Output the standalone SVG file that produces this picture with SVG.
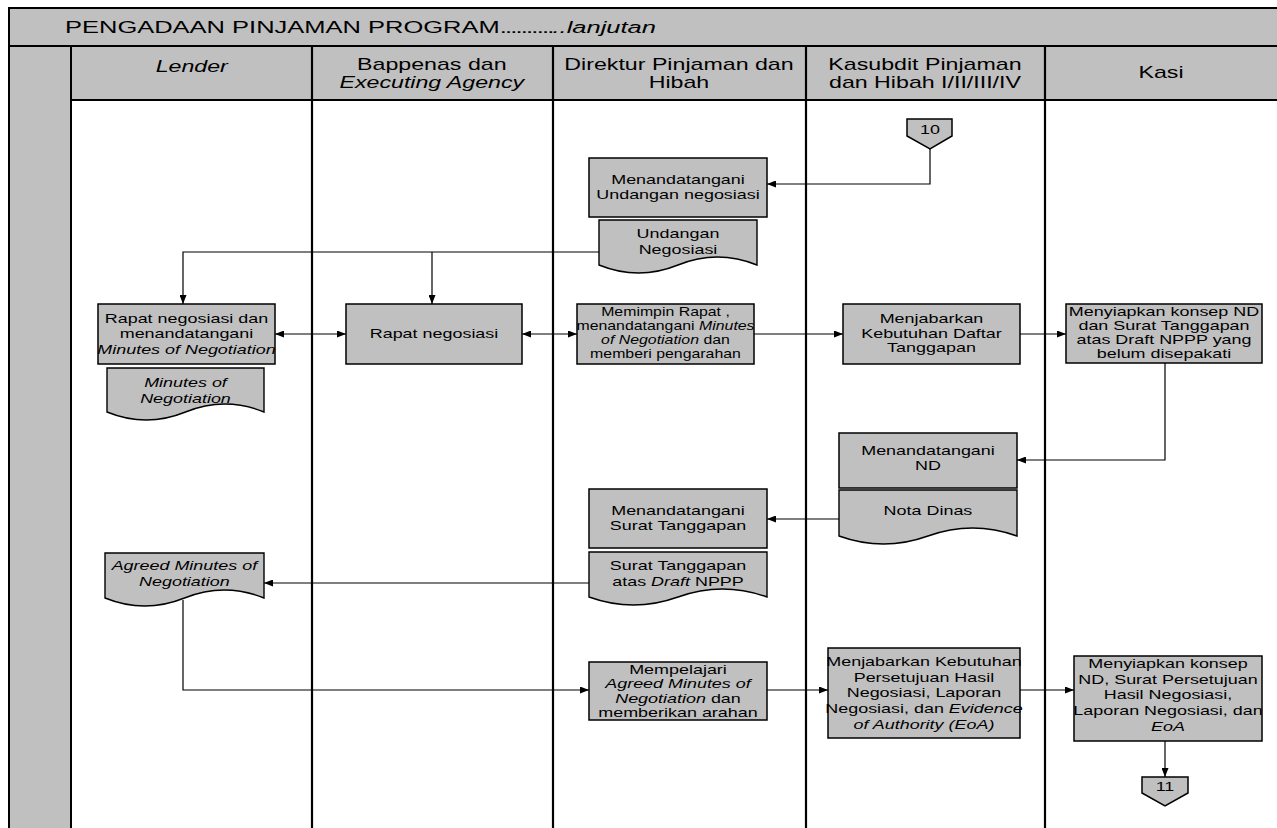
<svg xmlns="http://www.w3.org/2000/svg" width="1277" height="828" viewBox="0 0 1277 828">
<style>
.bg{fill:#c0c0c0;stroke:#000;stroke-width:2}
.lane{stroke:#000;stroke-width:2.2;fill:none}
.box{fill:#c0c0c0;stroke:#000;stroke-width:1.5}
.doc{fill:#c0c0c0;stroke:#000;stroke-width:1.4}
.conn{fill:none;stroke:#000;stroke-width:1.2}
text{font-family:"Liberation Sans",Arial,sans-serif;fill:#000}
.t{font-size:13px;text-anchor:middle;transform-box:fill-box;transform-origin:50% 50%;transform:scaleX(1.38)}
.t.n{transform:scaleX(1.22)}
.h{font-size:16px;text-anchor:middle;transform-box:fill-box;transform-origin:50% 50%;transform:scaleX(1.45)}
.title{font-size:17px;transform-box:fill-box;transform-origin:0 50%;transform:scaleX(1.5)}
.dots{letter-spacing:-1.2px}
.i{font-style:italic}
</style>
<defs>
<marker id="ah" viewBox="0 0 9 7" refX="9" refY="3.5" markerWidth="9" markerHeight="7" markerUnits="userSpaceOnUse" orient="auto-start-reverse">
<path d="M0,0 L9,3.5 L0,7 z" fill="#000"/>
</marker>
</defs>
<rect width="1277" height="828" fill="#fff"/>
<g id="frame">
<rect class="bg" x="9" y="8" width="1290" height="38"/>
<rect class="bg" x="9" y="46" width="62" height="800"/>
<rect class="bg" x="71" y="46" width="1230" height="54"/>
<path class="lane" d="M312,46 V828 M553,46 V828 M806,46 V828 M1045,46 V828"/>
<text class="title" x="65" y="33">PENGADAAN PINJAMAN PROGRAM<tspan class="dots">..........</tspan><tspan class="i">..lanjutan</tspan></text>
</g>
<g id="headers">
<text class="h i" x="192" y="72">Lender</text>
<text class="h" x="432" y="70">Bappenas dan<tspan class="i" x="432" dy="18">Executing Agency</tspan></text>
<text class="h" x="679" y="70">Direktur Pinjaman dan<tspan x="679" dy="18">Hibah</tspan></text>
<text class="h" x="925" y="70">Kasubdit Pinjaman<tspan x="925" dy="18">dan Hibah I/II/III/IV</tspan></text>
<text class="h" x="1161" y="78">Kasi</text>
</g>
<g id="connectors">
<path class="conn" d="M930,149 V184 H767" marker-end="url(#ah)"/>
<path class="conn" d="M599,252 H183 V304" marker-end="url(#ah)"/>
<path class="conn" d="M432,252 V304" marker-end="url(#ah)"/>
<path class="conn" d="M275,334 H346" marker-start="url(#ah)" marker-end="url(#ah)"/>
<path class="conn" d="M522,334 H577" marker-start="url(#ah)" marker-end="url(#ah)"/>
<path class="conn" d="M754,334 H843" marker-end="url(#ah)"/>
<path class="conn" d="M1020,334 H1066" marker-end="url(#ah)"/>
<path class="conn" d="M1165,363 V460 H1017" marker-end="url(#ah)"/>
<path class="conn" d="M839,519 H767" marker-end="url(#ah)"/>
<path class="conn" d="M589,583 H264" marker-end="url(#ah)"/>
<path class="conn" d="M183,600 V690 H589" marker-end="url(#ah)"/>
<path class="conn" d="M767,690 H828" marker-end="url(#ah)"/>
<path class="conn" d="M1020,690 H1074" marker-end="url(#ah)"/>
<path class="conn" d="M1165,741 V777" marker-end="url(#ah)"/>
</g>
<g id="off10">
<path class="box" d="M907,119 H952 V136 L930,149 L907,136 Z"/>
<text class="t" x="930" y="134">10</text>
</g>
<g id="n-undangan">
<rect class="box" x="589" y="158" width="178" height="59"/>
<text class="t" x="678" y="184">Menandatangani<tspan x="678" dy="15.5">Undangan negosiasi</tspan></text>
</g>
<g id="d-undangan">
<path class="doc" d="M599,220 H757 V265 Q717.5,249 678,265 T599,265 Z"/>
<text class="t" x="678" y="238">Undangan<tspan x="678" dy="16">Negosiasi</tspan></text>
</g>
<g id="n-rapat-lender">
<rect class="box" x="98" y="304" width="177" height="60"/>
<text class="t" x="186.5" y="323">Rapat negosiasi dan<tspan x="186.5" dy="15.5">menandatangani</tspan><tspan class="i" x="186.5" dy="15.5">Minutes of Negotiation</tspan></text>
</g>
<g id="d-minutes">
<path class="doc" d="M107,368 H264 V412 Q224.75,396 185.5,412 T107,412 Z"/>
<text class="t i" x="185.5" y="387">Minutes of<tspan x="185.5" dy="16">Negotiation</tspan></text>
</g>
<g id="n-rapat">
<rect class="box" x="346" y="304" width="176" height="60"/>
<text class="t" x="434" y="338.5">Rapat negosiasi</text>
</g>
<g id="n-memimpin">
<rect class="box" x="577" y="304" width="177" height="60"/>
<text class="t n" x="665.5" y="316">Memimpin Rapat ,<tspan x="665.5" dy="14">menandatangani <tspan class="i">Minutes</tspan></tspan><tspan x="665.5" dy="14"><tspan class="i">of Negotiation</tspan> dan</tspan><tspan x="665.5" dy="14">memberi pengarahan</tspan></text>
</g>
<g id="n-daftar">
<rect class="box" x="843" y="304" width="177" height="60"/>
<text class="t" x="931.5" y="323.5">Menjabarkan<tspan x="931.5" dy="14.5">Kebutuhan Daftar</tspan><tspan x="931.5" dy="14.5">Tanggapan</tspan></text>
</g>
<g id="n-kasi1">
<rect class="box" x="1066" y="304" width="196" height="59"/>
<text class="t" x="1164" y="316">Menyiapkan konsep ND<tspan x="1164" dy="14">dan Surat Tanggapan</tspan><tspan x="1164" dy="14">atas Draft NPPP yang</tspan><tspan x="1164" dy="14">belum disepakati</tspan></text>
</g>
<g id="n-nd">
<rect class="box" x="839" y="433" width="178" height="55"/>
<text class="t" x="928" y="455">Menandatangani<tspan x="928" dy="15">ND</tspan></text>
</g>
<g id="d-notadinas">
<path class="doc" d="M839,490 H1017 V536 Q972.5,520 928,536 T839,536 Z"/>
<text class="t" x="928" y="515">Nota Dinas</text>
</g>
<g id="n-surat">
<rect class="box" x="589" y="489" width="178" height="59"/>
<text class="t" x="678" y="515">Menandatangani<tspan x="678" dy="15">Surat Tanggapan</tspan></text>
</g>
<g id="d-surat">
<path class="doc" d="M589,552 H767 V597 Q722.5,581 678,597 T589,597 Z"/>
<text class="t" x="678" y="570">Surat Tanggapan<tspan x="678" dy="16">atas <tspan class="i">Draft</tspan> NPPP</tspan></text>
</g>
<g id="d-agreed">
<path class="doc" d="M105,553 H264 V598 Q224.25,582 184.5,598 T105,598 Z"/>
<text class="t i" x="184.5" y="570">Agreed Minutes of<tspan x="184.5" dy="16">Negotiation</tspan></text>
</g>
<g id="n-mempelajari">
<rect class="box" x="589" y="662" width="178" height="58"/>
<text class="t" x="678" y="674">Mempelajari<tspan class="i" x="678" dy="14.5">Agreed Minutes of</tspan><tspan x="678" dy="14.5"><tspan class="i">Negotiation</tspan> dan</tspan><tspan x="678" dy="14.5">memberikan arahan</tspan></text>
</g>
<g id="n-persetujuan">
<rect class="box" x="828" y="648" width="192" height="90"/>
<text class="t" x="924" y="666">Menjabarkan Kebutuhan<tspan x="924" dy="15.7">Persetujuan Hasil</tspan><tspan x="924" dy="15.7">Negosiasi, Laporan</tspan><tspan x="924" dy="15.7">Negosiasi, dan <tspan class="i">Evidence</tspan></tspan><tspan class="i" x="924" dy="15.7">of Authority (EoA)</tspan></text>
</g>
<g id="n-kasi2">
<rect class="box" x="1074" y="656" width="188" height="85"/>
<text class="t" x="1168" y="668">Menyiapkan konsep<tspan x="1168" dy="15.7">ND, Surat Persetujuan</tspan><tspan x="1168" dy="15.7">Hasil Negosiasi,</tspan><tspan x="1168" dy="15.7">Laporan Negosiasi, dan</tspan><tspan class="i" x="1168" dy="15.7">EoA</tspan></text>
</g>
<g id="off11">
<path class="box" d="M1142,777 H1188 V793 L1165,806 L1142,793 Z"/>
<text class="t" x="1165" y="791">11</text>
</g>
</svg>
